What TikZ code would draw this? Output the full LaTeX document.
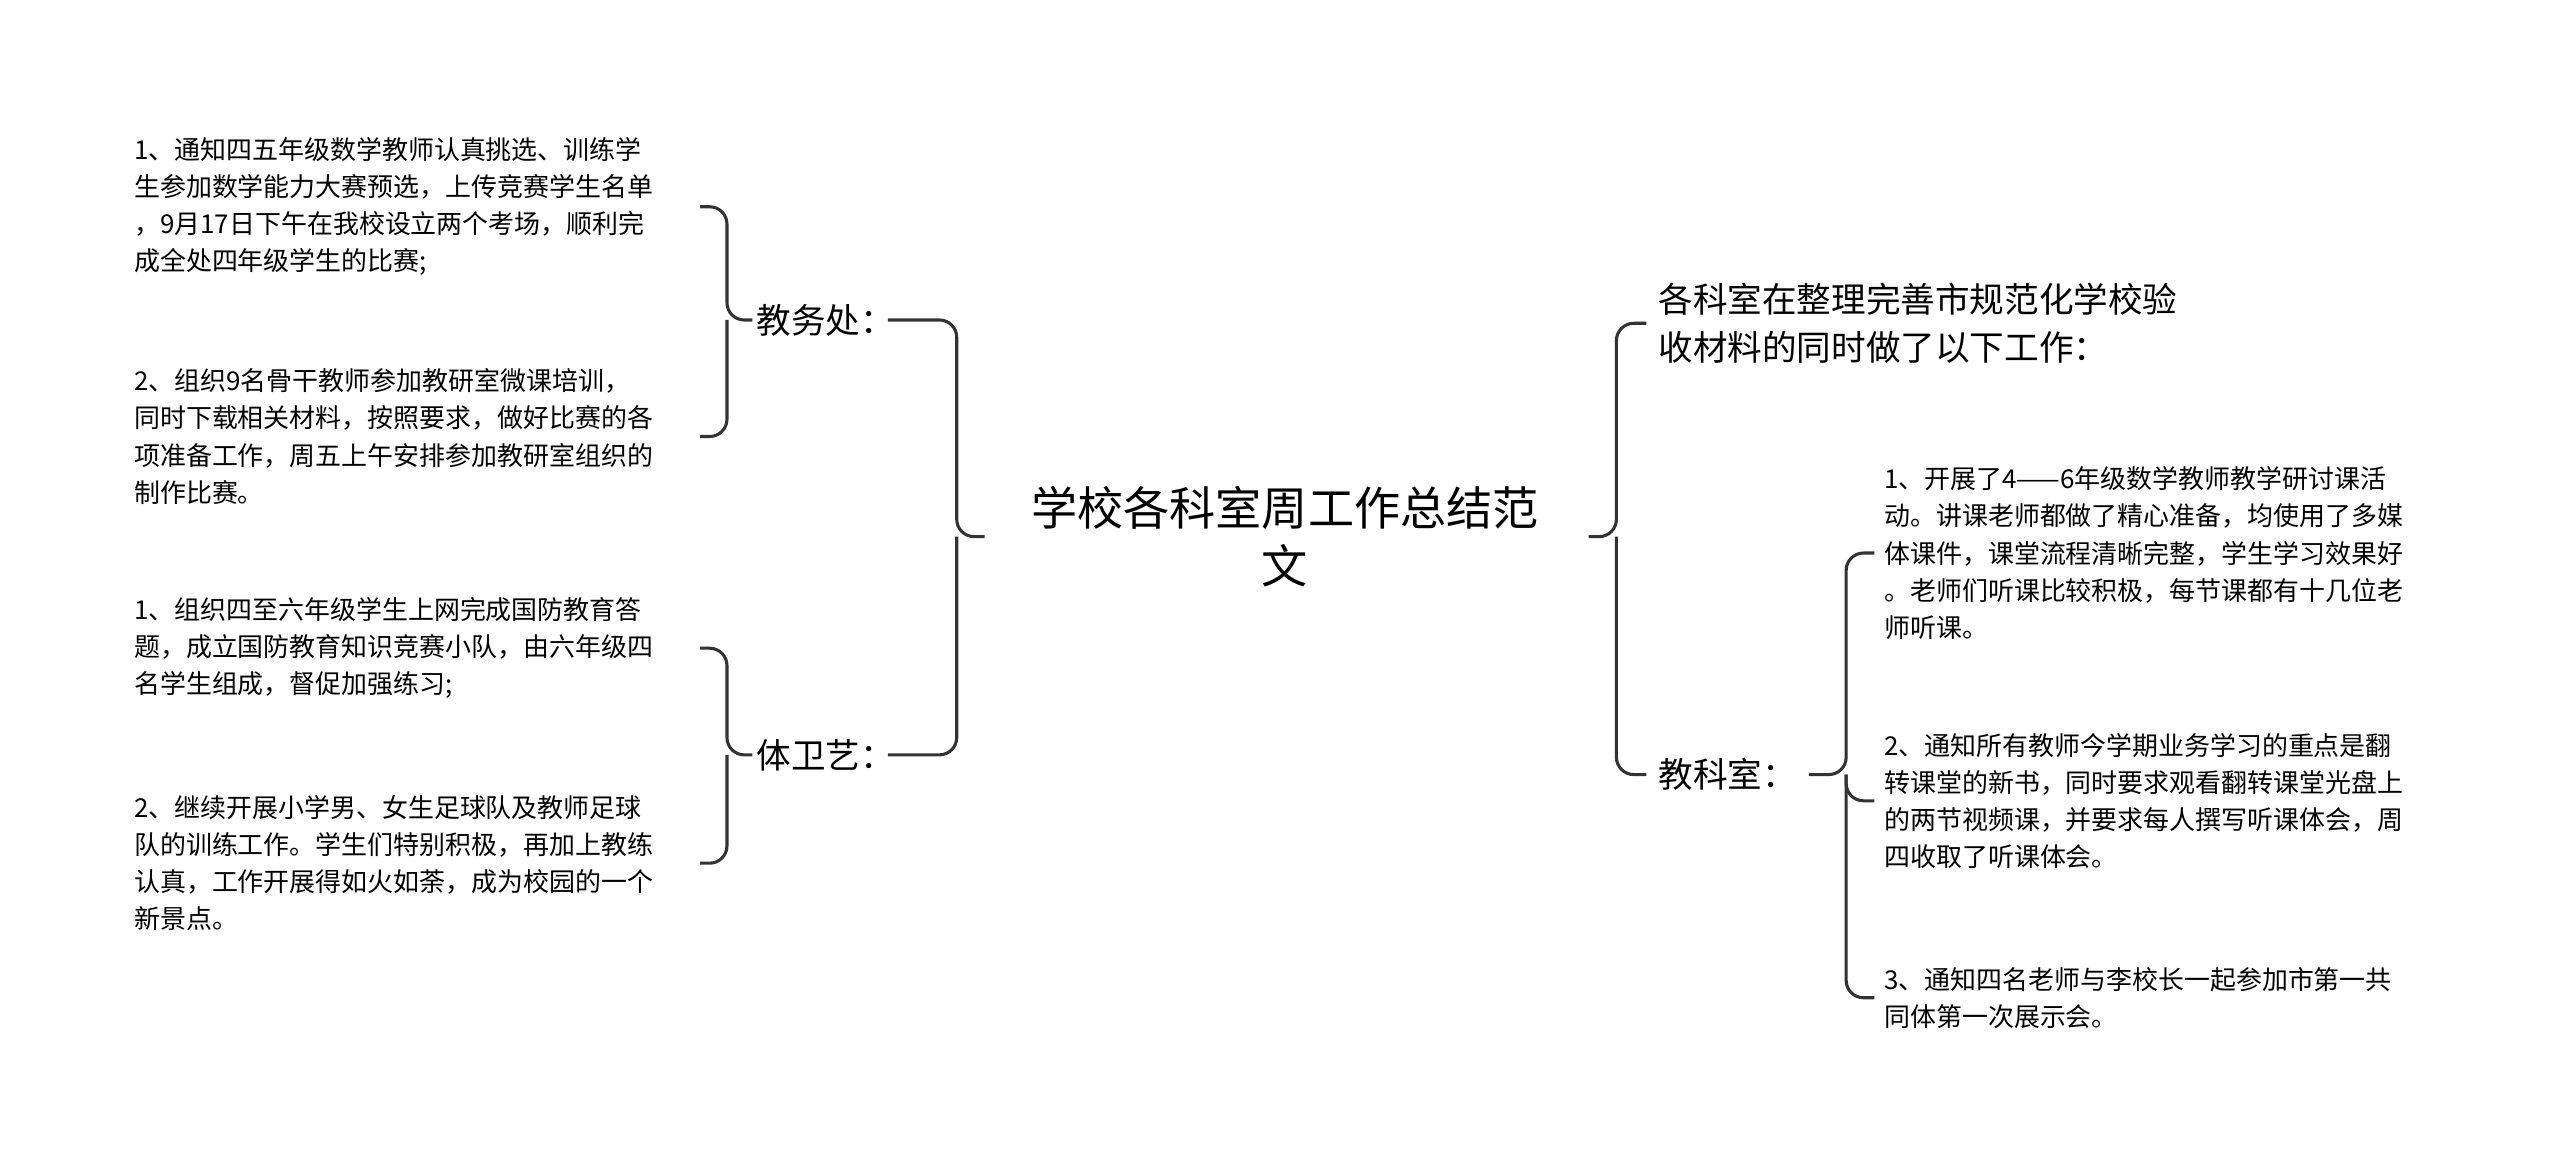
\documentclass[tikz,border=0pt]{standalone}
\usepackage{fontspec}
\setmainfont{Noto Sans CJK SC}
\tikzset{
  link/.style={draw=black!80, line width=1.6pt, rounded corners=9pt},
  rootnode/.style={align=center, font=\fontsize{24}{30}\selectfont, inner sep=2pt},
  branchnode/.style={align=left, font=\fontsize{18}{25}\selectfont, inner sep=2pt},
  leafl/.style={anchor=east, align=left, inner sep=0pt, text width=10.2cm, font=\fontsize{13.5}{19.3}\selectfont},
  leafr/.style={anchor=west, align=left, inner sep=0pt, text width=10.4cm, font=\fontsize{13.5}{19.3}\selectfont}
}
\begin{document}
\begin{tikzpicture}[x=0.03cm,y=-0.03cm]
\useasboundingbox[fill=white] (0,0) rectangle (1560,705);

% centre
\node[rootnode] (root) at (783,327) {学校各科室周工作总结范\\文};
\coordinate (rl) at (600,327);
\coordinate (rr) at (968,327);

% left side
\node[branchnode, anchor=east] (jwc) at (548,195) {教务处：};
\node[branchnode, anchor=east] (twy) at (548,460) {体卫艺：};
\draw[link] (rl) -- (583,327) |- ([xshift=-6pt]jwc.east);
\draw[link] (583,327) |- ([xshift=-6pt]twy.east);

\node[leafl] (jwc1) at (422,126) {1、通知四五年级数学教师认真挑选、训练学\\生参加数学能力大赛预选，上传竞赛学生名单\\，9月17日下午在我校设立两个考场，顺利完\\成全处四年级学生的比赛;};
\node[leafl] (jwc2) at (422,266) {2、组织9名骨干教师参加教研室微课培训，\\同时下载相关材料，按照要求，做好比赛的各\\项准备工作，周五上午安排参加教研室组织的\\制作比赛。};
\draw[link] (jwc.west) -- (443,195) |- ([xshift=4pt]jwc1.east);
\draw[link] (443,195) |- ([xshift=4pt]jwc2.east);

\node[leafl] (twy1) at (422,395) {1、组织四至六年级学生上网完成国防教育答\\题，成立国防教育知识竞赛小队，由六年级四\\名学生组成，督促加强练习;};
\node[leafl] (twy2) at (422,526) {2、继续开展小学男、女生足球队及教师足球\\队的训练工作。学生们特别积极，再加上教练\\认真，工作开展得如火如荼，成为校园的一个\\新景点。};
\draw[link] (twy.west) -- (443,460) |- ([xshift=4pt]twy1.east);
\draw[link] (443,460) |- ([xshift=4pt]twy2.east);

% right side
\node[branchnode, anchor=west] (gks) at (1008,197) {各科室在整理完善市规范化学校验\\收材料的同时做了以下工作：};
\node[branchnode, anchor=west] (jks) at (1008,472) {教科室：};
\draw[link] (rr) -- (985,327) |- ([xshift=-4pt]gks.west);
\draw[link] (985,327) |- ([xshift=-4pt]jks.west);

\node[leafr] (jks1) at (1148,337) {1、开展了4——6年级数学教师教学研讨课活\\动。讲课老师都做了精心准备，均使用了多媒\\体课件，课堂流程清晰完整，学生学习效果好\\。老师们听课比较积极，每节课都有十几位老\\师听课。};
\node[leafr] (jks2) at (1148,488) {2、通知所有教师今学期业务学习的重点是翻\\转课堂的新书，同时要求观看翻转课堂光盘上\\的两节视频课，并要求每人撰写听课体会，周\\四收取了听课体会。};
\node[leafr] (jks3) at (1148,608) {3、通知四名老师与李校长一起参加市第一共\\同体第一次展示会。};
\draw[link] ([xshift=4pt]jks.east) -- (1125,472) |- ([xshift=-5pt]jks1.west);
\draw[link] (1125,472) |- ([xshift=-5pt]jks2.west);
\draw[link] (1125,472) |- ([xshift=-5pt]jks3.west);
\end{tikzpicture}
\end{document}
